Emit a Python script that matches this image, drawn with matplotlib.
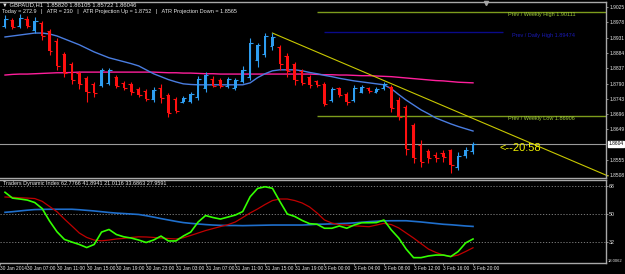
import matplotlib
matplotlib.use("Agg")
import matplotlib.pyplot as plt
import matplotlib.transforms as mtransforms
import numpy as np

plt.rcParams["font.family"] = ["Liberation Sans", "DejaVu Sans"]

# ---- data: GBPAUD H1 candles (bar 0 = 30 Jan 04:00) ----
opens = [1.8967, 1.8985, 1.8967, 1.8988, 1.8954, 1.8976, 1.8951, 1.8921, 1.8881, 1.8850,
         1.8822, 1.8807, 1.8788, 1.8785, 1.8792, 1.8810, 1.8792, 1.8788, 1.8773, 1.8767,
         1.8742, 1.8776, 1.8755, 1.8742, 1.8733, 1.8736, 1.8749, 1.8776, 1.8804, 1.8801,
         1.8782, 1.8776, 1.8798, 1.8810, 1.8862, 1.8881, 1.8905, 1.8902, 1.8874, 1.8850,
         1.8828, 1.8810, 1.8798, 1.8788, 1.8739, 1.8776, 1.8758, 1.8739, 1.8764, 1.8776,
         1.8764, 1.8776, 1.8779, 1.8739, 1.8718, 1.8663, 1.8601, 1.8583, 1.8570, 1.8577,
         1.8586, 1.8533, 1.8570, 1.8582]
highs = [1.9000, 1.8991, 1.9003, 1.8997, 1.8994, 1.8982, 1.8957, 1.8930, 1.8887, 1.8856,
         1.8828, 1.8813, 1.8795, 1.8838, 1.8838, 1.8816, 1.8798, 1.8795, 1.8779, 1.8773,
         1.8779, 1.8788, 1.8761, 1.8749, 1.8752, 1.8764, 1.8813, 1.8825, 1.8813, 1.8807,
         1.8810, 1.8807, 1.8844, 1.8930, 1.8914, 1.8945, 1.8945, 1.8908, 1.8884, 1.8856,
         1.8835, 1.8816, 1.8801, 1.8795, 1.8779, 1.8779, 1.8764, 1.8785, 1.8785, 1.8779,
         1.8779, 1.8795, 1.8785, 1.8749, 1.8724, 1.8669, 1.8616, 1.8589, 1.8580, 1.8586,
         1.8589, 1.8580, 1.8595, 1.86105]
lows = [1.8960, 1.8957, 1.8960, 1.8960, 1.8945, 1.8924, 1.8878, 1.8831, 1.8810, 1.8788,
        1.8773, 1.8733, 1.8749, 1.8779, 1.8785, 1.8776, 1.8770, 1.8755, 1.8749, 1.8736,
        1.8733, 1.8730, 1.8687, 1.8699, 1.8730, 1.8730, 1.8739, 1.8764, 1.8779, 1.8776,
        1.8776, 1.8770, 1.8792, 1.8801, 1.8841, 1.8871, 1.8893, 1.8831, 1.8810, 1.8785,
        1.8785, 1.8776, 1.8779, 1.8721, 1.8733, 1.8749, 1.8724, 1.8733, 1.8761, 1.8761,
        1.8761, 1.8770, 1.8702, 1.8678, 1.8570, 1.8546, 1.8533, 1.8546, 1.8549, 1.8549,
        1.8515, 1.8524, 1.8561, 1.85722]
closes = [1.8988, 1.8964, 1.8991, 1.8967, 1.8982, 1.8936, 1.8890, 1.8844, 1.8822, 1.8801,
          1.8788, 1.8764, 1.8761, 1.8831, 1.8831, 1.8782, 1.8776, 1.8764, 1.8755, 1.8742,
          1.8770, 1.8745, 1.8699, 1.8706, 1.8745, 1.8758, 1.8804, 1.8816, 1.8782, 1.8782,
          1.8804, 1.8801, 1.8831, 1.8914, 1.8908, 1.8936, 1.8933, 1.8850, 1.8828, 1.8801,
          1.8792, 1.8785, 1.8785, 1.8727, 1.8773, 1.8755, 1.8733, 1.8776, 1.8779, 1.8767,
          1.8773, 1.8788, 1.8715, 1.8687, 1.8589, 1.8561, 1.8549, 1.8561, 1.8561, 1.8564,
          1.8540, 1.8567, 1.8586, 1.86046]

ma_fast = [1.8933, 1.8936, 1.8939, 1.8942, 1.8945, 1.8945, 1.8942, 1.8936, 1.8927, 1.8918,
           1.8909, 1.8898, 1.8887, 1.8878, 1.8869, 1.8863, 1.8857, 1.8851, 1.8844, 1.8832,
           1.8820, 1.8811, 1.8802, 1.8795, 1.8789, 1.8787, 1.8786, 1.8786, 1.8786, 1.8786,
           1.8786, 1.8786, 1.8786, 1.8792, 1.8808, 1.8820, 1.8829, 1.8832, 1.8832, 1.8832,
           1.8829, 1.8824, 1.8820, 1.8815, 1.8811, 1.8806, 1.8802, 1.8798, 1.8795, 1.8792,
           1.8789, 1.8786, 1.8774, 1.8756, 1.8739, 1.8724, 1.8709, 1.8697, 1.8684, 1.8675,
           1.8666, 1.8658, 1.8651, 1.8644]
ma_slow = [1.8816, 1.8818, 1.8819, 1.8819, 1.8820, 1.8821, 1.8822, 1.8823, 1.8823, 1.8824,
           1.8825, 1.8825, 1.8825, 1.8825, 1.8825, 1.8825, 1.8825, 1.8825, 1.8825, 1.8825,
           1.8825, 1.8824, 1.8823, 1.8823, 1.8822, 1.8822, 1.8821, 1.8820, 1.8820, 1.8819,
           1.8819, 1.8819, 1.8819, 1.8819, 1.8819, 1.8819, 1.8819, 1.8819, 1.8819, 1.8819,
           1.8819, 1.8819, 1.8818, 1.8817, 1.8817, 1.8816, 1.8816, 1.8815, 1.8814, 1.8814,
           1.8813, 1.8812, 1.8811, 1.8809, 1.8807, 1.8805, 1.8803, 1.8801, 1.8799, 1.8798,
           1.8796, 1.8794, 1.8793, 1.8792]

# Traders Dynamic Index lines
tdi_price = [64.2, 60.4, 59.8, 59.1, 57.5, 53.6, 45.4, 38.4, 33.4, 31.7,
             30.1, 28.1, 30.1, 38.2, 39.9, 36.6, 35.1, 34.3, 33.0, 31.4,
             33.0, 35.6, 32.4, 32.4, 35.6, 38.2, 44.8, 49.0, 47.7, 46.7,
             48.0, 49.3, 51.6, 61.3, 66.7, 67.8, 66.8, 58.2, 50.0, 48.4,
             45.8, 43.7, 43.3, 40.7, 40.7, 42.2, 40.7, 42.8, 44.3, 44.3,
             44.4, 46.1, 39.6, 34.3, 27.1, 21.5, 21.5, 22.6, 23.2, 23.2,
             22.2, 25.5, 31.1, 33.69]
tdi_signal = [61.1, 60.9, 60.6, 60.4, 60.1, 58.3, 54.9, 51.5, 46.7, 42.2,
              37.6, 34.7, 33.0, 32.5, 33.0, 33.7, 34.1, 34.7, 35.1, 35.0,
              34.7, 34.3, 34.0, 33.7, 34.5, 36.0, 37.6, 39.2, 40.5, 41.8,
              43.0, 44.8, 47.7, 50.7, 53.3, 56.2, 58.8, 59.8, 59.8, 58.8,
              57.2, 54.6, 50.7, 46.1, 44.1, 43.1, 42.8, 42.3, 42.0, 41.7,
              42.8, 43.9, 43.1, 40.9, 37.6, 34.3, 30.7, 27.1, 24.9, 23.2,
              22.2, 23.2, 25.5, 27.96]
tdi_base = [51.1, 51.5, 52.0, 52.5, 52.9, 53.0, 53.1, 53.1, 53.1, 53.1,
            52.8, 52.4, 52.0, 51.5, 51.0, 50.6, 50.3, 50.0, 49.7, 48.9,
            48.0, 47.0, 46.1, 45.2, 44.4, 43.9, 43.5, 43.1, 42.8, 42.6,
            42.5, 42.5, 42.4, 42.5, 42.6, 42.7, 42.8, 42.8, 42.8, 42.8,
            42.8, 43.0, 43.3, 43.4, 43.6, 43.7, 43.9, 44.2, 44.6, 45.0,
            45.3, 45.5, 45.6, 45.6, 45.6, 45.2, 44.8, 44.3, 43.8, 43.3,
            43.0, 42.6, 42.2, 41.89]
tdi_levels = [32, 50, 68]

time_ticks = [3, 7, 11, 15, 19, 23, 27, 31, 35, 39, 43, 47, 51, 55, 59, 63]
time_labels = ["30 Jan 07:00", "30 Jan 11:00", "30 Jan 15:00", "30 Jan 19:00",
               "30 Jan 23:00", "31 Jan 03:00", "31 Jan 07:00", "31 Jan 11:00",
               "31 Jan 15:00", "31 Jan 19:00", "3 Feb 00:00", "3 Feb 04:00",
               "3 Feb 08:00", "3 Feb 12:00", "3 Feb 16:00", "3 Feb 20:00"]
price_ticks = [1.9025, 1.8978, 1.8931, 1.8884, 1.8837, 1.8790, 1.8743, 1.8696,
               1.8649, 1.8555, 1.8508]

weekly_high = 1.90111
weekly_low = 1.86906
daily_high = 1.89474
trend_start = (36, 1.8945)
trend_end = (81.16, 1.8506)
last_price = 1.86046

BG = "black"
FG = "#e8e8e8"
BORDER = "#a8a8a8"
UP = "#2e9df0"
DOWN = "#ff1010"

fig = plt.figure(figsize=(6.25, 2.74), dpi=100, facecolor=BG)
ax = fig.add_axes([0.0, 0.3504, 0.9696, 0.6423], facecolor=BG)
ax2 = fig.add_axes([0.0, 0.0401, 0.9696, 0.3029], facecolor=BG, sharex=ax)

x = np.arange(len(opens))
o = np.array(opens)
c = np.array(closes)
up = c >= o
colors = np.where(up, UP, DOWN)

# ---- candles ----
ax.vlines(x, lows, highs, colors=colors, linewidth=0.8, zorder=3)
ax.bar(x, np.maximum(np.abs(c - o), 0.00005), bottom=np.minimum(o, c), width=0.34,
       color=colors, linewidth=0, zorder=3)
ax.hlines(o, x - 0.38, x, colors=colors, linewidth=0.8, zorder=3)
ax.hlines(c, x, x + 0.38, colors=colors, linewidth=0.8, zorder=3)

# moving averages
ax.plot(x, ma_slow, color="#ff1f9c", linewidth=1.0, zorder=2)
ax.plot(x, ma_fast, color="#4a7de0", linewidth=1.0, zorder=2)

# levels / trendline
xmin, xmax = -0.673, 80.9
ax.axhline(last_price, color="#9a9a9a", linewidth=0.8, zorder=1)
ax.hlines([weekly_high, weekly_low], 42, xmax, colors="#7d9c1c", linewidth=1.0, zorder=1)
ax.hlines(daily_high, 43, 67, colors="#0a0a8a", linewidth=1.0, zorder=1)
ax.plot([trend_start[0], trend_end[0]], [trend_start[1], trend_end[1]],
        color="#c8c800", linewidth=0.8, zorder=2, clip_on=False)

ax.text(67.7, weekly_high - 0.0001, "Prev / Weekly High 1.90111", color="#9fc93a",
        fontsize=4, va="top", ha="left")
ax.text(67.7, weekly_low - 0.0001, "Prev / Weekly Low 1.86906", color="#9fc93a",
        fontsize=4, va="top", ha="left")
ax.text(68.2, daily_high - 0.0003, "Prev / Daily High 1.89474", color="#1a1ab4",
        fontsize=4, va="top", ha="left")
ax.text(66.6, 1.8592, "<--20:58", color="#f0f000", fontsize=8, va="center", ha="left")

ax.plot([64.7], [1.9036], marker="v", color="#a0a0a0", markersize=3, clip_on=False)

ax.set_xlim(xmin, xmax)
ax.set_ylim(1.84997, 1.90404)

# price scale
ax.yaxis.tick_right()
ax.set_yticks(price_ticks)
ax.set_yticklabels([f"{v:.4f}" for v in price_ticks])
ax.tick_params(axis="y", colors=BORDER, labelcolor=FG, labelsize=3.5, length=1.5,
               width=0.6, pad=0.8)
ax.tick_params(axis="x", bottom=False, labelbottom=False)
trans = mtransforms.blended_transform_factory(ax.transAxes, ax.transData)
ax.text(1.004, last_price, "1.8604", transform=trans, color="black", fontsize=3.5,
        va="center", ha="left",
        bbox=dict(facecolor="white", edgecolor="white", pad=0.5), clip_on=False)

# header
fig.text(0.004, 1 - 5 / 274, "\u25bc GBPAUD,H1  1.85820 1.86105 1.85722 1.86046",
         color=FG, fontsize=4.2, va="center", ha="left")
fig.text(0.004, 1 - 11.5 / 274,
         "Today = 272.9   |   ATR = 230   |   ATR Projection Up = 1.8752   |   "
         "ATR Projection Down = 1.8565",
         color=FG, fontsize=4.0, va="center", ha="left")

# ---- Traders Dynamic Index ----
for lv in tdi_levels:
    ax2.axhline(lv, color="#8a8a8a", linewidth=0.6, linestyle=(0, (1.5, 2)), zorder=1)
ax2.plot(x, tdi_base, color="#1f6fcc", linewidth=1.2, zorder=2)
ax2.plot(x, tdi_signal, color="#c00000", linewidth=0.9, zorder=3)
ax2.plot(x, tdi_price, color="#33ff00", linewidth=1.2, zorder=4)
ax2.set_ylim(18.0, 72.2)
ax2.yaxis.tick_right()
ax2.set_yticks(tdi_levels)
ax2.set_yticklabels([str(v) for v in tdi_levels])
ax2.tick_params(axis="y", colors=BORDER, labelcolor=FG, labelsize=3.8, length=1.5,
                width=0.6, pad=0.8)
trans2 = mtransforms.blended_transform_factory(ax2.transAxes, ax2.transData)
ax2.text(1.003, 19.5, "18.0062", transform=trans2, color=FG, fontsize=3.0,
         va="center", ha="left", clip_on=False)
ax2.text(0.005, 0.985, "Traders Dynamic Index 62.7766 41.8941 21.0116 33.6863 27.9591",
         transform=ax2.transAxes, color=FG, fontsize=4.0, va="top", ha="left")

ax2.set_xticks([xmin] + time_ticks)
ax2.set_xticklabels(["30 Jan 2014"] + time_labels, ha="left")
ax2.tick_params(axis="x", colors=BORDER, labelcolor=FG, labelsize=3.5, length=1.5,
                width=0.6, pad=1)

for a in (ax, ax2):
    for side in ("top", "bottom", "right"):
        a.spines[side].set_color(BORDER)
        a.spines[side].set_linewidth(1.0)
    a.spines["left"].set_visible(False)

fig.savefig("out.png", dpi=100, facecolor=BG)
